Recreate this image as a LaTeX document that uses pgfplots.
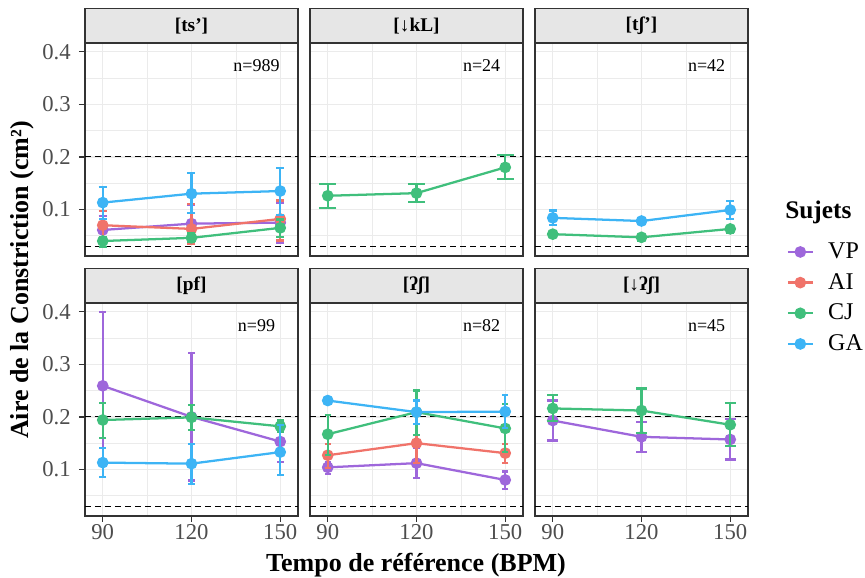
\documentclass[border=0pt]{standalone}
\usepackage{fontspec}
\setmainfont{Liberation Serif}
\usepackage{pgfplots}
\pgfplotsset{compat=1.18}
\definecolor{cVP}{HTML}{9E67DB}
\definecolor{cAI}{HTML}{F0736A}
\definecolor{cCJ}{HTML}{40BF7C}
\definecolor{cGA}{HTML}{3DB4F5}
\definecolor{gridc}{HTML}{EBEBEB}
\definecolor{bordc}{HTML}{333333}
\definecolor{stripc}{HTML}{E6E6E6}
\definecolor{tickc}{HTML}{4D4D4D}
\pgfplotsset{
  panel/.style={
    scale only axis, width=159.75pt, height=159.75pt,
    anchor=north west,
    xmin=84, xmax=156, ymin=0.0115, ymax=0.4165,
    xtick={90,120,150}, ytick={0.1,0.2,0.3,0.4},
    minor xtick={105,135}, minor ytick={0.05,0.15,0.25,0.35},
    grid=both,
    major grid style={line width=1.1pt, color=gridc},
    minor grid style={line width=0.55pt, color=gridc},
    axis line style={line width=1.3pt, color=bordc},
    tick align=outside, major tick length=4.5pt, minor tick length=0pt,
    tick style={line width=1.1pt, color=bordc},
    xtick pos=bottom, ytick pos=left,
    clip mode=individual,
    /pgf/number format/assume math mode=true,
    /pgf/number format/fixed, /pgf/number format/precision=1,
    yticklabel style={font=\fontsize{17}{20}\selectfont, color=tickc, inner sep=0pt, anchor=east, xshift=-6pt},
    xticklabel style={font=\fontsize{17}{20}\selectfont, color=tickc, inner sep=0pt, anchor=north, yshift=-1.5pt},
  },
  noxt/.style={xticklabels={}, xtick style={draw=none}},
  noyt/.style={yticklabels={}, ytick style={draw=none}},
  strip/.style={after end axis/.append code={
    \draw[fill=stripc, draw=bordc, line width=1.3pt] (rel axis cs:0,1) rectangle ([yshift=25.9pt]rel axis cs:1,1);
    \node[font=\fontsize{14.5}{17}\selectfont\bfseries] at ([yshift=12.95pt]rel axis cs:0.5,1) {#1};
  }},
  s/.style 2 args={color=#1, line width=1.7pt, mark=*, mark size=3.5pt, mark options={solid},
    /pgfplots/error bars/y dir=both, /pgfplots/error bars/y explicit,
    /pgfplots/error bars/error mark=-,
    /pgfplots/error bars/error bar style={line width=1.6pt, color=#1},
    /pgfplots/error bars/error mark options={line width=1.6pt, mark size=#2, color=#1, rotate=90}},
}
\newcommand{\reflines}{%
  \draw[black, line width=0.75pt, dash pattern=on 4.5pt off 3pt] (axis cs:84,0.2) -- (axis cs:156,0.2);
  \draw[black, line width=0.75pt, dash pattern=on 4.5pt off 3pt] (axis cs:84,0.03) -- (axis cs:156,0.03);
}
\newcommand{\ntext}[1]{\node[font=\fontsize{13.5}{16}\selectfont] at (axis cs:142,0.373) {#1};}
\begin{document}
\begin{tikzpicture}
\useasboundingbox (0,0) rectangle (648.75pt,433.5pt);
% ---------- row 1 ----------
\begin{axis}[panel, noxt, strip={[ts’]}, at={(63.75pt,401.25pt)},
  legend style={at={(axis description cs:3.293,-0.197)}, anchor=west, draw=none, fill=none,
    font=\fontsize{18}{21}\selectfont, row sep=3pt, inner sep=0pt,
    nodes={inner xsep=6pt, inner ysep=2pt, text height=13pt, text depth=3pt}},
  legend cell align=left,
  legend image code/.code={\draw[#1, mark repeat=2, mark phase=2] plot coordinates {(0pt,0pt) (9.4pt,0pt) (18.75pt,0pt)}; \path (23.5pt,0pt);}]
\reflines
\addplot[s={cVP}{3pt}] coordinates {(90,0.061) += (0,0.026) -= (0,0.026) (120,0.073) += (0,0.036) -= (0,0.038) (150,0.075) += (0,0.038) -= (0,0.039)};
\addlegendentry{VP}
\addplot[s={cAI}{3pt}] coordinates {(90,0.070) += (0,0.027) -= (0,0.029) (120,0.063) += (0,0.047) -= (0,0.028) (150,0.082) += (0,0.035) -= (0,0.041)};
\addlegendentry{AI}
\addplot[s={cCJ}{3pt}] coordinates {(90,0.040) += (0,0.007) -= (0,0.012) (120,0.046) += (0,0.009) -= (0,0.008) (150,0.065) += (0,0.016) -= (0,0.018)};
\addlegendentry{CJ}
\addplot[s={cGA}{3pt}] coordinates {(90,0.113) += (0,0.029) -= (0,0.031) (120,0.130) += (0,0.039) -= (0,0.037) (150,0.135) += (0,0.043) -= (0,0.046)};
\addlegendentry{GA}
\ntext{n=989}
\end{axis}
\begin{axis}[panel, noxt, noyt, strip={[↓kL]}, at={(232.5pt,401.25pt)}]
\reflines
\addplot[s={cCJ}{6.4pt}] coordinates {(90,0.126) += (0,0.022) -= (0,0.023) (120,0.131) += (0,0.017) -= (0,0.017) (150,0.180) += (0,0.024) -= (0,0.022)};
\ntext{n=24}
\end{axis}
\begin{axis}[panel, noxt, noyt, strip={[tʃ’]}, at={(401.25pt,401.25pt)}]
\reflines
\addplot[s={cCJ}{3pt}] coordinates {(90,0.053) += (0,0.006) -= (0,0.006) (120,0.047) += (0,0.005) -= (0,0.006) (150,0.063) += (0,0.006) -= (0,0.007)};
\addplot[s={cGA}{3pt}] coordinates {(90,0.084) += (0,0.014) -= (0,0.014) (120,0.078) += (0,0.006) -= (0,0.005) (150,0.099) += (0,0.017) -= (0,0.017)};
\ntext{n=42}
\end{axis}
% ---------- row 2 ----------
\begin{axis}[panel, strip={[pf]}, at={(63.75pt,206.25pt)}]
\reflines
\addplot[s={cVP}{2.6pt}] coordinates {(90,0.259) += (0,0.141) -= (0,0.141) (120,0.200) += (0,0.121) -= (0,0.121) (150,0.153) += (0,0.038) -= (0,0.039)};
\addplot[s={cCJ}{2.6pt}] coordinates {(90,0.194) += (0,0.033) -= (0,0.034) (120,0.199) += (0,0.024) -= (0,0.024) (150,0.182) += (0,0.011) -= (0,0.010)};
\addplot[s={cGA}{2.6pt}] coordinates {(90,0.113) += (0,0.028) -= (0,0.027) (120,0.111) += (0,0.037) -= (0,0.038) (150,0.133) += (0,0.052) -= (0,0.044)};
\ntext{n=99}
\end{axis}
\begin{axis}[panel, noyt, strip={[ʔʃ]}, at={(232.5pt,206.25pt)}]
\reflines
\addplot[s={cVP}{2.3pt}] coordinates {(90,0.104) += (0,0.010) -= (0,0.012) (120,0.112) += (0,0.029) -= (0,0.028) (150,0.080) += (0,0.016) -= (0,0.017)};
\addplot[s={cAI}{2.3pt}] coordinates {(90,0.127) += (0,0.022) -= (0,0.025) (120,0.150) += (0,0.036) -= (0,0.037) (150,0.131) += (0,0.018) -= (0,0.018)};
\addplot[s={cCJ}{2.3pt}] coordinates {(90,0.167) += (0,0.036) -= (0,0.040) (120,0.209) += (0,0.041) -= (0,0.044) (150,0.178) += (0,0.046) -= (0,0.044)};
\addplot[s={cGA}{2.3pt}] coordinates {(90,0.231) += (0,0) -= (0,0) (120,0.209) += (0,0.022) -= (0,0.023) (150,0.210) += (0,0.032) -= (0,0.032)};
\ntext{n=82}
\end{axis}
\begin{axis}[panel, noyt, strip={[↓ʔʃ]}, at={(401.25pt,206.25pt)}]
\reflines
\addplot[s={cVP}{4.1pt}] coordinates {(90,0.193) += (0,0.038) -= (0,0.038) (120,0.162) += (0,0.028) -= (0,0.028) (150,0.157) += (0,0.039) -= (0,0.038)};
\addplot[s={cCJ}{4.1pt}] coordinates {(90,0.216) += (0,0.025) -= (0,0.024) (120,0.212) += (0,0.042) -= (0,0.043) (150,0.185) += (0,0.041) -= (0,0.040)};
\ntext{n=45}
\end{axis}
% ---------- labels ----------
\node[rotate=90, font=\fontsize{19.5}{22}\selectfont\bfseries] at (17pt,223.5pt) {Aire de la Constriction (cm²)};
\node[font=\fontsize{19.5}{22}\selectfont\bfseries] at (312pt,9.75pt) {Tempo de référence (BPM)};
\node[anchor=west, inner sep=0pt, font=\fontsize{19}{22}\selectfont\bfseries] at (588.75pt,274.5pt) {Sujets};
\end{tikzpicture}
\end{document}
